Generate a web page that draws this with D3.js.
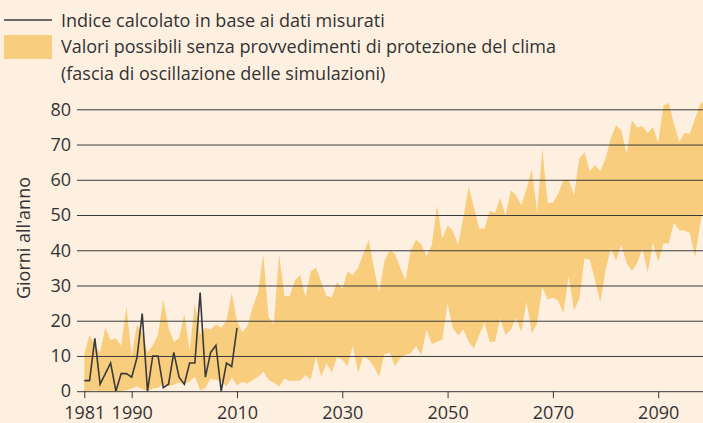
<!DOCTYPE html>
<html>
<head>
<meta charset="utf-8">
<script src="https://cdn.jsdelivr.net/npm/d3@7"></script>
<style>
  html, body { margin: 0; padding: 0; background: #fdf0e1; }
  svg { display: block; font-family: "Open Sans", "Noto Sans", sans-serif; }
</style>
</head>
<body>
<svg id="chart"></svg>
<script>
// years with simulated band, 1981..2099
const years = d3.range(1981, 2100);

// upper edge of the simulation band (days per year)
const bandHigh = [
  10.5, 16, 13, 11, 18, 14.5, 15, 13, 24, 10,
  19, 16.5, 11, 13, 16, 26, 18, 14, 15, 22,
  11.5, 25, 16, 18, 17.5, 19, 18, 20, 28, 20,
  16.7, 18.5, 24, 28, 39, 21, 19, 39, 27, 27,
  31.5, 33, 26.6, 34, 35, 31, 27, 26.6, 31, 29,
  34, 33, 35, 39, 43, 35, 28, 37, 40, 39,
  35, 31.5, 40, 43, 41.7, 38.3, 41.5, 52.8, 43.3, 47,
  45.6, 41.5, 49.5, 58, 52.3, 46.2, 46.2, 51.2, 50.6, 55,
  49.7, 57, 55.6, 52.8, 57.5, 63, 50.9, 68.9, 53.5, 53.5,
  56, 60, 60, 55.6, 66, 67.9, 62.5, 64.1, 62.5, 66,
  71.7, 75.5, 74, 67.3, 76.9, 74.8, 75.2, 73.3, 75, 70.5,
  81.1, 81.8, 76, 70.8, 73.3, 73, 77.4, 81.6, 82.5
];

// lower edge of the simulation band
const bandLow = [
  0, 0, 0.3, 0, 0, 0, 0, 0, 0.3, 0.8,
  1.3, 0.6, 0, 0.8, 1, 2, 1.3, 1.8, 2.5, 2,
  2.7, 4.1, 0.3, 1, 3.6, 3.2, 2.9, 1.3, 3.8, 1.6,
  2.7, 2.2, 3.2, 4, 5.5, 3.2, 2.4, 1.3, 3.6, 3,
  3, 3, 4.6, 3.2, 9.8, 4.1, 7.9, 5.3, 9.6, 9,
  7.1, 12.8, 5.3, 9.8, 9, 7, 4.1, 10.5, 11, 7.1,
  9.5, 10.3, 10.7, 12.8, 10.3, 17.5, 13.4, 14, 14.7, 24.9,
  17.8, 15.9, 17.5, 14, 12.1, 15.9, 19.4, 14, 14, 20.7,
  15.9, 17.5, 20.7, 16.9, 25.4, 16.4, 19.2, 29.6, 26, 26.6,
  25.7, 22.1, 32.7, 23, 26, 37.6, 37.4, 31.5, 25.1, 34.3,
  40.5, 37, 41.7, 36.3, 34.2, 36.3, 40.5, 33.6, 42.1, 36.7,
  41.9, 41.9, 47.8, 45.7, 45.5, 45, 38, 47.6, 54
];

// index computed from measured data, 1981..2010
const measuredYears = d3.range(1981, 2011);
const measured = [
  3, 3, 15, 2, 5, 8, 0, 5, 5, 4,
  9.5, 22, 0, 10, 10, 1, 2, 11, 4, 2,
  8, 8, 28, 4, 11, 13, 0, 8, 7, 18
];

const xTicks = [1981, 1990, 2010, 2030, 2050, 2070, 2090];
const yTicks = [0, 10, 20, 30, 40, 50, 60, 70, 80];

const legendLine = "Indice calcolato in base ai dati misurati";
const legendBand = ["Valori possibili senza provvedimenti di protezione del clima",
                    "(fascia di oscillazione delle simulazioni)"];
const yTitle = "Giorni all'anno";

const width = 703, height = 423;
const BG = "#fdf0e1", BAND = "#f9cd7e", INK = "#3a3a3a", TEXT = "#333";
const FONT = 18;

const svg = d3.select("#chart").attr("width", width).attr("height", height);
svg.append("rect").attr("width", width).attr("height", height).attr("fill", BG);

const x = d3.scaleLinear().domain([1981, 2100]).range([84.3, 84.3 + 119 * 5.265]);
const y = d3.scaleLinear().domain([0, 80]).range([391.2, 109.3]);

// band
const band = years.map((yr, i) => ({ yr, lo: bandLow[i], hi: bandHigh[i] }));
svg.append("path")
  .datum(band)
  .attr("fill", BAND)
  .attr("d", d3.area().x(d => x(d.yr)).y0(d => y(d.lo)).y1(d => y(d.hi)));

// gridlines + y labels
const yAxis = svg.append("g")
  .attr("transform", "translate(77,0)")
  .call(d3.axisLeft(y).tickValues(yTicks).tickSize(-(width - 77)).tickPadding(6))
  .call(g => g.select(".domain").remove());
yAxis.selectAll("line").attr("stroke", INK).attr("stroke-width", 1);
yAxis.selectAll("text").attr("fill", TEXT).attr("font-size", FONT)
  .attr("font-family", "'Open Sans', 'Noto Sans', sans-serif");

// x axis ticks
const xAxis = svg.append("g")
  .attr("transform", `translate(0,${y(0)})`)
  .call(d3.axisBottom(x).tickValues(xTicks).tickFormat(d3.format("d")).tickSize(7).tickPadding(8))
  .call(g => g.select(".domain").remove());
xAxis.selectAll("line").attr("stroke", INK);
xAxis.selectAll("text").attr("fill", TEXT).attr("font-size", FONT)
  .attr("font-family", "'Open Sans', 'Noto Sans', sans-serif");

// measured line
svg.append("path")
  .datum(measured)
  .attr("fill", "none")
  .attr("stroke", INK)
  .attr("stroke-width", 1.6)
  .attr("stroke-linejoin", "miter")
  .attr("d", d3.line().x((d, i) => x(measuredYears[i])).y(d => y(d)));

// y title
svg.append("text")
  .attr("transform", "translate(30,238) rotate(-90)")
  .attr("text-anchor", "middle")
  .attr("fill", TEXT).attr("font-size", FONT)
  .text(yTitle);

// legend
const lg = svg.append("g");
lg.append("line").attr("x1", 4).attr("x2", 52).attr("y1", 20).attr("y2", 20)
  .attr("stroke", INK).attr("stroke-width", 1.7);
lg.append("text").attr("x", 61).attr("y", 27).attr("fill", TEXT).attr("font-size", FONT).text(legendLine);
lg.append("rect").attr("x", 4).attr("y", 35).attr("width", 48).attr("height", 24).attr("fill", BAND);
legendBand.forEach((t, i) => {
  lg.append("text").attr("x", 61).attr("y", 53 + i * 27).attr("fill", TEXT).attr("font-size", FONT).text(t);
});
</script>
</body>
</html>
